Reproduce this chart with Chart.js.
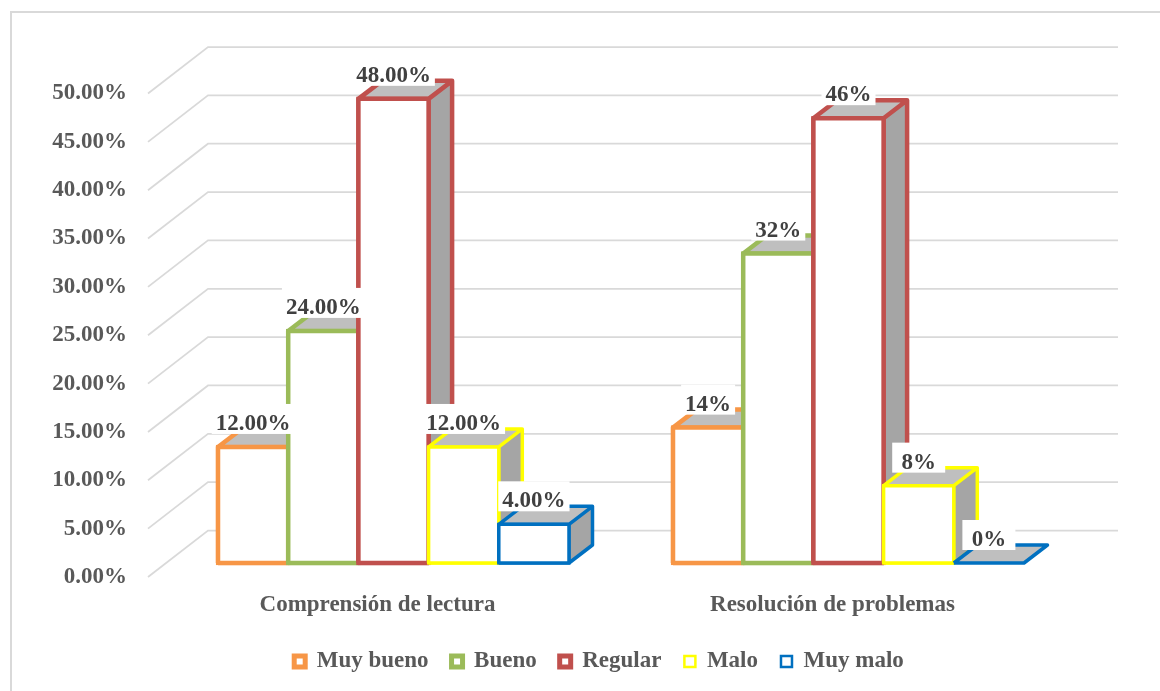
<!DOCTYPE html>
<html>
<head>
<meta charset="utf-8">
<title>Comprensión de lectura y resolución de problemas</title>
<script src="https://cdn.jsdelivr.net/npm/chart.js@4.4.1/dist/chart.umd.min.js"></script>
<style>
  html, body { margin: 0; padding: 0; background: #fff; }
  #wrap { width: 1160px; height: 691px; }
</style>
</head>
<body>
<div id="wrap"><canvas id="chart" width="1160" height="691"></canvas></div>
<script>
var categories = ['Comprensión de lectura', 'Resolución de problemas'];
var labelDecimals = [2, 0];   // data labels: 12.00% in the first group, 14% in the second

var seriesNames = ['Muy bueno', 'Bueno', 'Regular', 'Malo', 'Muy malo'];
var muyBueno = [0.12, 0.14];
var bueno    = [0.24, 0.32];
var regular  = [0.48, 0.46];
var malo     = [0.12, 0.08];
var muyMalo  = [0.04, 0.00];
var seriesValues = [muyBueno, bueno, regular, malo, muyMalo];

var seriesColors = ['#F79646', '#9BBB59', '#C0504D', '#FFFF00', '#0070C0'];
var barBorders = [4.5, 4.5, 4.5, 3.5, 3.5];
var legendBorders = [5, 5, 5, 2.5, 2.5];

var fontFamily = '"Liberation Serif", "Times New Roman", serif';
var axisColor = '#595959';
var gridColor = '#D9D9D9';

// oblique 3d offsets
var barShift = { x: 18, y: -14 };     // bar fronts sit a bit behind the axis plane
var barDepth = { x: 23.5, y: -18 };   // thickness of each column
var wallDepth = { x: 60, y: -46.5 };  // back wall

function pctLabel(v, dec) {
    return (v * 100).toFixed(dec) + '%';
}

function drawColumnDepth(ctx, bar, color, lw) {
    var p = bar.getProps(['x', 'y', 'base', 'width'], true);
    var L = p.x - p.width / 2, R = p.x + p.width / 2;
    var T = Math.min(p.y, p.base), B = Math.max(p.y, p.base);
    var dx = barDepth.x, dy = barDepth.y;

    // top
    ctx.beginPath();
    ctx.moveTo(L, T);
    ctx.lineTo(R, T);
    ctx.lineTo(R + dx, T + dy);
    ctx.lineTo(L + dx, T + dy);
    ctx.closePath();
    ctx.fillStyle = '#BFBFBF';
    ctx.fill();

    // right side
    if (B - T > 0.5) {
        ctx.beginPath();
        ctx.moveTo(R, T);
        ctx.lineTo(R + dx, T + dy);
        ctx.lineTo(R + dx, B + dy);
        ctx.lineTo(R, B);
        ctx.closePath();
        ctx.fillStyle = '#A5A5A5';
        ctx.fill();
    }

    ctx.beginPath();
    ctx.moveTo(L, B);
    ctx.lineTo(L, T);
    ctx.lineTo(L + dx, T + dy);
    ctx.lineTo(R + dx, T + dy);
    ctx.lineTo(R + dx, B + dy);
    ctx.lineTo(R, B);
    ctx.lineTo(L, B);
    ctx.moveTo(L, T);
    ctx.lineTo(R, T);
    ctx.lineTo(R + dx, T + dy);
    ctx.moveTo(R, T);
    ctx.lineTo(R, B);
    ctx.strokeStyle = color;
    ctx.lineWidth = lw;
    ctx.lineJoin = 'round';
    ctx.stroke();
}

var columns3d = {
    id: 'columns3d',
    beforeDraw: function (chart) {
        var ctx = chart.ctx;
        ctx.save();
        ctx.fillStyle = '#fff';
        ctx.fillRect(0, 0, chart.width, chart.height);
        ctx.strokeStyle = gridColor;
        ctx.lineWidth = 2;
        ctx.strokeRect(11, 12, chart.width + 40, chart.height + 40);
        ctx.restore();
    },
    beforeDatasetsDraw: function (chart) {
        // side wall diagonals + back wall lines
        var ctx = chart.ctx, ys = chart.scales.y, area = chart.chartArea;
        ctx.save();
        ctx.strokeStyle = gridColor;
        ctx.lineWidth = 1.75;
        ys.ticks.forEach(function (t) {
            var py = ys.getPixelForValue(t.value);
            ctx.beginPath();
            ctx.moveTo(area.left, py);
            ctx.lineTo(area.left + wallDepth.x, py + wallDepth.y);
            ctx.lineTo(area.right + wallDepth.x, py + wallDepth.y);
            ctx.stroke();
        });
        ctx.restore();
    },
    // columns are painted left to right below, so skip the default pass
    beforeDatasetDraw: function () {
        return false;
    },
    afterDatasetsDraw: function (chart) {
        var ctx = chart.ctx;
        ctx.save();
        ctx.translate(barShift.x, barShift.y);
        chart.data.datasets.forEach(function (ds, i) {
            var meta = chart.getDatasetMeta(i);
            meta.data.forEach(function (bar) {
                drawColumnDepth(ctx, bar, ds.borderColor, ds.borderWidth);
                bar.draw(ctx);
            });
        });

        // value labels on white boxes
        ctx.font = 'bold 23px ' + fontFamily;
        ctx.textAlign = 'center';
        ctx.textBaseline = 'alphabetic';
        chart.data.datasets.forEach(function (ds, i) {
            var meta = chart.getDatasetMeta(i);
            meta.data.forEach(function (bar, j) {
                var p = bar.getProps(['x', 'y', 'base'], true);
                var top = Math.min(p.y, p.base);
                var txt = pctLabel(ds.data[j], labelDecimals[j]);
                var w = ctx.measureText(txt).width;
                var bw = Math.max(w + 8, 53);
                var base = top - 17;
                ctx.fillStyle = '#fff';
                ctx.fillRect(p.x - bw / 2, base - 26, bw, 30);
                ctx.fillStyle = '#404040';
                ctx.fillText(txt, p.x, base);
            });
        });
        ctx.restore();
    }
};

var datasets = seriesNames.map(function (name, i) {
    return {
        label: name,
        data: seriesValues[i],
        backgroundColor: '#FFFFFF',
        borderColor: seriesColors[i],
        borderWidth: barBorders[i],
        borderSkipped: false,
        inflateAmount: barBorders[i] / 2,
        barPercentage: 1,
        categoryPercentage: 0.7714,
        clip: false
    };
});

new Chart(document.getElementById('chart'), {
    type: 'bar',
    data: { labels: categories, datasets: datasets },
    options: {
        responsive: false,
        animation: false,
        devicePixelRatio: 1,
        events: [],
        layout: { padding: { top: 93.5, left: 38, right: 0, bottom: 8 } },
        scales: {
            x: {
                grid: { display: false, drawTicks: false },
                border: { display: false },
                ticks: {
                    color: axisColor,
                    font: { family: fontFamily, size: 23, weight: 'bold' },
                    padding: 14,
                    labelOffset: 2,
                    maxRotation: 0
                },
                afterFit: function (s) { s.height = 50; }
            },
            y: {
                min: 0,
                max: 0.5,
                grid: { display: false, drawTicks: false },
                border: { display: false },
                ticks: {
                    stepSize: 0.05,
                    color: axisColor,
                    font: { family: fontFamily, size: 23, weight: 'bold' },
                    padding: 21,
                    callback: function (v) { return pctLabel(v, 2); }
                },
                afterFit: function (s) { s.width = 110; }
            },
            yRight: {
                axis: 'y',
                type: 'linear',
                position: 'right',
                grid: { display: false, drawTicks: false },
                border: { display: false },
                ticks: { display: false },
                afterFit: function (s) { s.width = 102; }
            }
        },
        plugins: {
            tooltip: { enabled: false },
            legend: {
                position: 'bottom',
                labels: {
                    boxWidth: 11,
                    boxHeight: 11,
                    padding: 23,
                    color: axisColor,
                    font: { family: fontFamily, size: 23, weight: 'bold' },
                    generateLabels: function (chart) {
                        return chart.data.datasets.map(function (ds, i) {
                            return {
                                text: ds.label,
                                fillStyle: '#FFFFFF',
                                strokeStyle: ds.borderColor,
                                lineWidth: legendBorders[i],
                                fontColor: axisColor,
                                hidden: false,
                                datasetIndex: i
                            };
                        });
                    }
                }
            }
        }
    },
    plugins: [columns3d]
});
</script>
</body>
</html>
